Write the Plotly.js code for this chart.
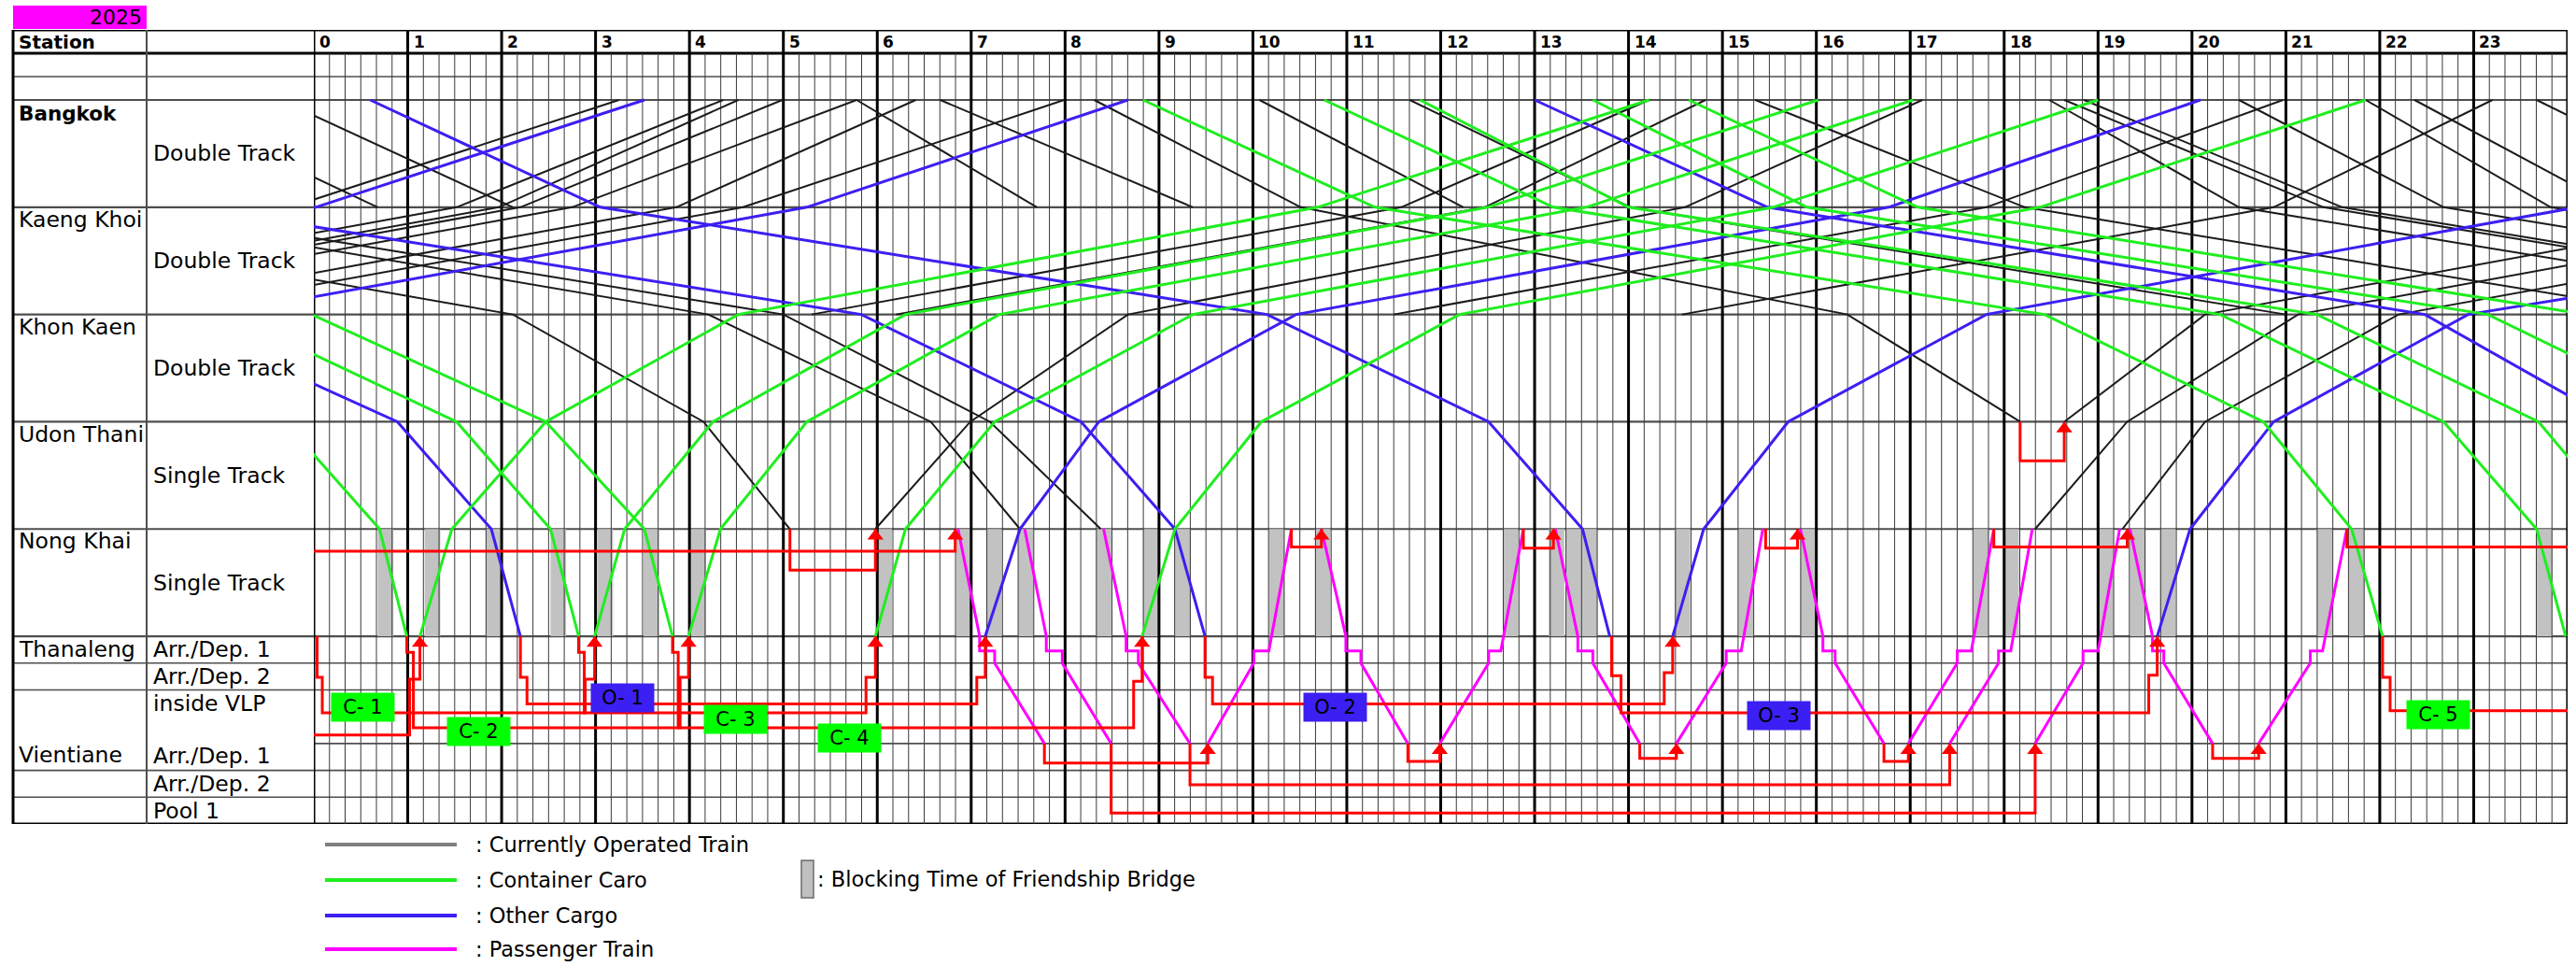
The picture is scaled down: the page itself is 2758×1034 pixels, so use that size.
<!DOCTYPE html>
<html>
<head>
<meta charset="utf-8">
<script src="https://cdn.plot.ly/plotly-3.0.1.min.js"></script>
<style>html,body{margin:0;padding:0;background:#fff;}</style>
</head>
<body>
<div id="chart" style="width:2758px;height:1034px"></div>
<script>
// ---------- timetable data ----------
// Station order along the line and their track positions (diagram rows)
const stationNames = ['Bangkok', 'Kaeng Khoi', 'Khon Kaen', 'Udon Thani', 'Nong Khai', 'Thanaleng'];
const stationPos = [0, 4, 8, 12, 16, 20];
const sectionLabels = ['Double Track', 'Double Track', 'Double Track', 'Single Track', 'Single Track'];
const hourLabels = ['0','1','2','3','4','5','6','7','8','9','10','11','12','13','14','15','16','17','18','19','20','21','22','23'];

// Times (hours) at each station: [Bangkok, Kaeng Khoi, Khon Kaen, Udon Thani, Nong Khai, Thanaleng]
const currentTrains = [
  [-0.36, 2.12], [-1.75, 0.68], [3.25, -0.25],
  [4.36, 1.52, -4.78], [4.52, 1.97, -4.33], [4.99, 2.2, -4.1], [5.78, 2.75, -3.55],
  [6.41, 3.86, -2.44], [7.99, 4.57, -1.73],
  [null, -4.4, 2.12, 4.15, 5.07], [null, -2.5, 4.2, 6.57, 7.52], [null, -2.0, 5.0, 7.2, 8.38],
  [5.78, 7.7], [6.67, 9.36], [8.31, 10.51, 16.33, 18.17], [10.07, 12.24], [11.67, 14.02, 21.0],
  [14.22, 11.58, 5.3], [14.82, 12.47, 6.2], [17.13, 14.6, 8.67, 6.99, 5.98],
  [20.97, 17.81, 11.5], [23.2, 20.87, 14.57],
  [null, 26.4, 20.14, 18.64], [null, 27.4, 21.13, 19.31, 18.33], [null, 28.5, 22.2, 20.14, 19.26],
  [15.35, 18.22, 25.2], [18.48, 20.5, 27.5], [18.64, 21.4, 28.4], [18.85, 21.6, 28.6],
  [20.5, 22.68, 29.7], [21.85, 23.82, 30.8], [22.37, 24.5], [23.67, 26.0]
];
const containerTrains = [
  [null, null, null, -0.31, 0.7, 0.99], [null, null, -0.9, 1.52, 2.52, 2.82],
  [null, null, -0.02, 2.47, 3.52, 3.82],
  [8.83, 11.3, 18.43, 20.76, 21.7, 22.03], [10.76, 13.2, 20.3, 22.68, 23.67, 23.98],
  [11.78, 14.0, 21.33, 23.69, 24.65, 24.95], [13.62, 15.9, 23.15, 25.5], [14.64, 17.08, 24.2],
  [14.22, 10.69, 4.52, 2.47, 1.47, 1.13], [16.02, 12.5, 6.3, 4.25, 3.31, 2.99],
  [17.03, 13.55, 7.3, 5.25, 4.33, 3.99], [19.0, 15.54, 9.36, 7.25, 6.3, 5.98],
  [21.85, 18.38, 12.2, 10.09, 9.17, 8.82]
];
const otherCargo = [
  [null, null, -1.63, 0.89, 1.89, 2.2], [null, -1.29, 5.83, 8.17, 9.17, 9.49],
  [0.6, 3.05, 10.15, 12.51, 13.51, 13.8], [13.0, 15.48, 22.48, 24.5],
  [3.52, 0.02, -6.3], [8.67, 5.25, -1.03],
  [20.09, 16.77, 10.46, 8.36, 7.52, 7.15], [null, 24.1, 17.81, 15.7, 14.8, 14.47],
  [null, 29.9, 22.94, 20.87, 19.98, 19.63]
];

// Passenger shuttle Nong Khai - Thanaleng - Vientiane
// southbound: [dep Nong Khai, arr Thanaleng, dep Thanaleng, arr Vientiane]
const passengerSouth = [
  [6.86, 7.09, 7.25, 7.78], [7.57, 7.8, 7.97, 8.49], [8.41, 8.65, 8.78, 9.33],
  [10.73, 10.99, 11.15, 11.65], [13.22, 13.46, 13.62, 14.12], [15.83, 16.07, 16.2, 16.72],
  [19.34, 19.58, 19.7, 20.22]
];
// northbound: [dep Vientiane, arr Thanaleng, dep Thanaleng, arr Nong Khai]
const passengerNorth = [
  [9.52, 10.01, 10.17, 10.41], [11.99, 12.51, 12.64, 12.88], [14.51, 15.04, 15.2, 15.43],
  [16.98, 17.5, 17.65, 17.89], [17.42, 17.94, 18.07, 18.3], [18.33, 18.84, 19.0, 19.23],
  [20.71, 21.26, 21.39, 21.65]
];

// Shunting / stabling moves (time, track row) and whether they end with a departure arrow
const moveTimes = [
  [0, 6.83, 6.83], [5.07, 5.07, 5.98, 5.98], [18.17, 18.17, 18.64, 18.64],
  [10.41, 10.41, 10.73, 10.73], [12.88, 12.88, 13.2, 13.2], [15.46, 15.46, 15.8, 15.8],
  [17.89, 17.89, 19.31, 19.31], [21.65, 21.65, 24],
  [0.035, 0.035, 0.09, 0.09, 2.89, 2.89, 2.99, 2.99],
  [0, 1.02, 1.02, 1.13, 1.13],
  [0.99, 0.99, 1.06, 1.06, 3.9, 3.9, 3.99, 3.99],
  [2.2, 2.2, 2.27, 2.27, 7.06, 7.06, 7.15, 7.15],
  [2.82, 2.82, 2.88, 2.88, 5.88, 5.88, 5.98, 5.98],
  [3.82, 3.82, 3.88, 3.88, 8.73, 8.73, 8.82, 8.82],
  [9.49, 9.49, 9.57, 9.57, 14.38, 14.38, 14.47, 14.47],
  [13.82, 13.82, 13.92, 13.92, 19.54, 19.54, 19.63, 19.63],
  [22.03, 22.03, 22.11, 22.11, 24],
  [7.78, 7.78, 9.52, 9.52], [8.49, 8.49, 18.33, 18.33], [9.33, 9.33, 17.42, 17.42],
  [11.65, 11.65, 11.99, 11.99], [14.12, 14.12, 14.51, 14.51], [16.72, 16.72, 16.98, 16.98],
  [20.22, 20.22, 20.71, 20.71]
];
const moveRows = [
  [16.83, 16.83, 16], [16, 17.53, 17.53, 16], [12, 13.46, 13.46, 12],
  [16, 16.67, 16.67, 16], [16, 16.71, 16.71, 16], [16, 16.71, 16.71, 16],
  [16, 16.67, 16.67, 16], [16, 16.67, 16.67],
  [20, 21.53, 21.53, 22.85, 22.85, 21.6, 21.6, 20],
  [23.68, 23.68, 21.6, 21.6, 20],
  [20, 20.6, 20.6, 23.41, 23.41, 21.53, 21.53, 20],
  [20, 21.53, 21.53, 22.52, 22.52, 21.53, 21.53, 20],
  [20, 20.6, 20.6, 22.85, 22.85, 21.53, 21.53, 20],
  [20, 20.6, 20.6, 23.41, 23.41, 21.68, 21.68, 20],
  [20, 21.53, 21.53, 22.52, 22.52, 21.36, 21.36, 20],
  [20, 21.47, 21.47, 22.85, 22.85, 21.45, 21.45, 20],
  [20, 21.53, 21.53, 22.78, 22.78],
  [24, 24.73, 24.73, 24], [24, 26.59, 26.59, 24], [24, 25.54, 25.54, 24],
  [24, 24.67, 24.67, 24], [24, 24.55, 24.55, 24], [24, 24.67, 24.67, 24],
  [24, 24.55, 24.55, 24]
];
const moveArrow = [
  true, true, true, true, true, true, true, false,
  true, true, true, true, true, true, true, true, false,
  true, true, true, true, true, true, true
];

// Friendship Bridge blocking windows (start hour, 10 minutes each)
const bridgeBlocks = [0.68, 1.18, 1.83, 2.52, 3.02, 3.51, 4.01, 5.99, 6.84, 7.16, 7.5, 8.33, 8.83,
  9.17, 10.17, 10.66, 12.66, 13.15, 13.33, 13.5, 14.49, 15.17, 15.83, 17.67, 17.99, 19.0, 19.34,
  19.66, 21.33, 21.67, 23.67];

// Wagon groups stabled in VLP
const groupNames = ['C- 1', 'C- 2', 'C- 3', 'C- 4', 'C- 5', 'O- 1', 'O- 2', 'O- 3'];
const groupTimes = [0.52, 1.76, 4.49, 5.7, 22.62, 3.29, 10.88, 15.6];
const groupRows = [22.64, 23.54, 23.1, 23.8, 22.92, 22.28, 22.64, 22.96];

const legendNames = [': Currently Operated Train', ': Container Caro', ': Other Cargo', ': Passenger Train'];

// ---------- layout geometry ----------
const W = 2758, H = 1034;
const ML = 336, MR = 9, MT = 32, MB = 152;
const PW = W - ML - MR, PH = H - MT - MB;
const Y_TOP = -2.613, Y_HEAD = -1.742, Y_BLANK = -0.871, Y_BOT = 27;
const BLOCK_LEN = 1 / 6;
const FONT = 'DejaVu Sans';
const FS = 23.5;
const C_BLACK = '#1b1b1b', C_GREEN = '#1fee1f', C_BLUE = '#3c1ff2', C_MAG = '#ff00ff', C_RED = '#ff0000';

const px = v => (v - ML) / PW;          // pixel column -> paper x
const py = v => (H - MB - v) / PH;      // pixel row -> paper y

// ---------- traces ----------
function timetableXY(list) {
  const x = [], y = [];
  list.forEach(tt => {
    tt.forEach((t, i) => { if (t !== null && t !== undefined) { x.push(t); y.push(stationPos[i]); } });
    x.push(null); y.push(null);
  });
  return { x, y };
}
function lineTrace(xy, color, width) {
  return { type: 'scatter', mode: 'lines', x: xy.x, y: xy.y, hoverinfo: 'skip',
    line: { color: color, width: width }, connectgaps: false };
}

const TL_HOLD = 20.55, TL_EXIT = 21, VTE = 24;
const pax = { x: [], y: [] };
passengerSouth.forEach(([a, b, c, d]) => {
  pax.x.push(a, b, b, c, c, d, null);
  pax.y.push(16, 20, TL_HOLD, TL_HOLD, TL_EXIT, VTE, null);
});
passengerNorth.forEach(([a, b, c, d]) => {
  pax.x.push(a, b, b, c, d, null);
  pax.y.push(VTE, TL_EXIT, TL_HOLD, TL_HOLD, 16, null);
});

const moves = { x: [], y: [] }, arrows = { x: [], y: [] };
moveTimes.forEach((ts, i) => {
  const rs = moveRows[i];
  ts.forEach((t, j) => { moves.x.push(t); moves.y.push(rs[j]); });
  moves.x.push(null); moves.y.push(null);
  if (moveArrow[i]) { arrows.x.push(ts[ts.length - 1]); arrows.y.push(rs[rs.length - 1] + 0.26); }
});

const traces = [
  lineTrace(timetableXY(currentTrains), C_BLACK, 2),
  lineTrace(timetableXY(otherCargo), C_BLUE, 3),
  lineTrace(timetableXY(containerTrains), C_GREEN, 3),
  lineTrace(pax, C_MAG, 3),
  lineTrace(moves, C_RED, 3),
  { type: 'scatter', mode: 'markers', x: arrows.x, y: arrows.y, hoverinfo: 'skip',
    marker: { symbol: 'triangle-up', size: 15, color: C_RED, line: { width: 0 } } }
];

// ---------- grid and table ----------
const shapes = [];
bridgeBlocks.forEach(t => shapes.push({ type: 'rect', xref: 'x', yref: 'y', x0: t, x1: t + BLOCK_LEN,
  y0: 16, y1: 20, fillcolor: '#c2c2c2', line: { width: 0 }, layer: 'below' }));

let minor = '';
for (let h = 0; h < 24; h++) for (let k = 1; k < 6; k++) {
  const x = h + k / 6; minor += `M${x},${Y_HEAD}L${x},${Y_BOT}`;
}
shapes.push({ type: 'path', xref: 'x', yref: 'y', path: minor, line: { color: '#3a3a3a', width: 1 }, layer: 'below' });

// row lines crossing label table and chart
const tableRows = [Y_BLANK, 0, 4, 8, 12, 16, 20, 21, 22, 25, 26];
tableRows.forEach(r => shapes.push({ type: 'line', xref: 'paper', yref: 'y', x0: px(14), x1: 1, y0: r, y1: r,
  line: { color: '#4e4e4e', width: stationPos.includes(r) ? 2.2 : 1.6 }, layer: 'below' }));
shapes.push({ type: 'line', xref: 'x', yref: 'y', x0: 0, x1: 24, y0: 24, y1: 24,
  line: { color: '#4e4e4e', width: 1.6 }, layer: 'below' });

let major = '';
for (let h = 0; h <= 24; h++) major += `M${h},${Y_TOP}L${h},${Y_BOT}`;
shapes.push({ type: 'path', xref: 'x', yref: 'y', path: major, line: { color: '#000', width: 3 }, layer: 'below' });

[Y_TOP, Y_HEAD, Y_BOT].forEach(r => shapes.push({ type: 'line', xref: 'paper', yref: 'y', x0: px(13), x1: 1,
  y0: r, y1: r, line: { color: '#000', width: 3.2 }, layer: 'below' }));
shapes.push({ type: 'line', xref: 'paper', yref: 'y', x0: px(14), x1: px(14), y0: Y_TOP, y1: Y_BOT,
  line: { color: '#000', width: 3 }, layer: 'below' });
shapes.push({ type: 'line', xref: 'paper', yref: 'y', x0: px(157), x1: px(157), y0: Y_TOP, y1: Y_BOT,
  line: { color: '#4e4e4e', width: 2 }, layer: 'below' });

// year tag
shapes.push({ type: 'rect', xref: 'paper', yref: 'paper', x0: px(14), x1: px(157), y0: py(31), y1: py(6),
  fillcolor: '#ff00ff', line: { width: 0 } });

// legend samples
const legendColors = ['#7f7f7f', C_GREEN, C_BLUE, C_MAG];
const legendRowsPx = [904, 942, 980, 1016];
legendRowsPx.forEach((r, i) => shapes.push({ type: 'line', xref: 'paper', yref: 'paper', x0: px(348), x1: px(489),
  y0: py(r), y1: py(r), line: { color: legendColors[i], width: 4 } }));
shapes.push({ type: 'rect', xref: 'paper', yref: 'paper', x0: px(858), x1: px(871), y0: py(961), y1: py(921),
  fillcolor: '#c0c0c0', line: { color: '#6a6a6a', width: 1.5 } });

// ---------- text ----------
const ann = [];
function text(t, x, y, opt) {
  ann.push(Object.assign({ text: t, x: x, y: y, xref: 'paper', yref: 'y', showarrow: false,
    xanchor: 'left', yanchor: 'middle', borderpad: 0,
    font: { family: FONT, size: FS, color: '#000' } }, opt || {}));
}
text('2025', px(153), py(19), { yref: 'paper', xanchor: 'right', font: { family: FONT, size: 22, color: '#000' } });
text('<b>Station</b>', px(19), -2.17, { font: { family: FONT, size: 20, color: '#000' } });
hourLabels.forEach((lab, h) => text('<b>' + lab + '</b>', h + 0.05, -2.17,
  { xref: 'x', font: { family: FONT, size: 17, color: '#000' } }));

const nameRows = [0.5, 4.46, 8.46, 12.46, 16.46, 20.5];
stationNames.forEach((n, i) => text(i === 0 ? '<b>' + n + '</b>' : n, px(19), nameRows[i],
  i === 0 ? { font: { family: FONT, size: 21.5, color: '#000' } } : {}));
text('Vientiane', px(19), 24.43);
sectionLabels.forEach((s, i) => text(s, px(163), stationPos[i] + 2));
const subLabels = ['Arr./Dep. 1', 'Arr./Dep. 2', 'inside VLP', 'Arr./Dep. 1', 'Arr./Dep. 2', 'Pool 1'];
const subRows = [20.5, 21.5, 22.5, 24.45, 25.5, 26.5];
subLabels.forEach((s, i) => text(s, px(163), subRows[i]));

groupNames.forEach((g, i) => ann.push({ text: g, x: groupTimes[i], y: groupRows[i], xref: 'x', yref: 'y',
  showarrow: false, width: 67, height: 30, borderpad: 0, align: 'center',
  bgcolor: g.charAt(0) === 'C' ? '#00ff00' : C_BLUE,
  font: { family: FONT, size: 21, color: '#000' } }));

const legendFont = { family: FONT, size: 22.5, color: '#000' };
legendNames.forEach((n, i) => text(n, px(508), py(legendRowsPx[i]), { yref: 'paper', font: legendFont }));
text(': Blocking Time of Friendship Bridge', px(874), py(941), { yref: 'paper', font: legendFont });

const layout = {
  width: W, height: H,
  margin: { l: ML, r: MR, t: MT, b: MB, pad: 0 },
  paper_bgcolor: '#fff', plot_bgcolor: '#fff',
  showlegend: false,
  xaxis: { range: [0, 24], visible: false, fixedrange: true },
  yaxis: { range: [Y_BOT, Y_TOP], visible: false, fixedrange: true },
  shapes: shapes,
  annotations: ann
};

Plotly.newPlot('chart', traces, layout, { staticPlot: true, displayModeBar: false });
</script>
</body>
</html>
